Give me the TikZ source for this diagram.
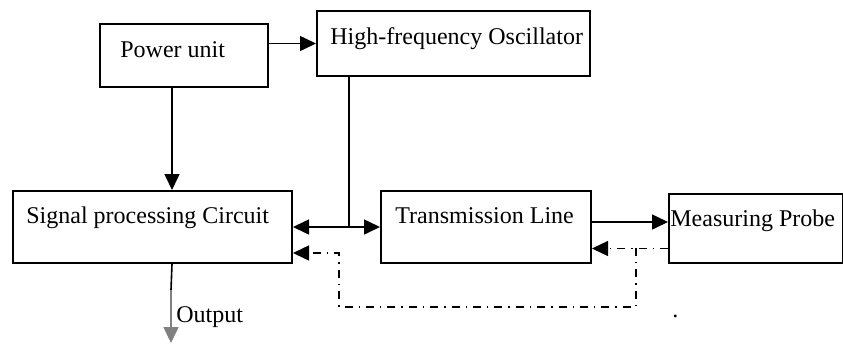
\documentclass[tikz,border=0pt]{standalone}
\usepackage{fontspec}
\setmainfont{Liberation Serif}
\usetikzlibrary{arrows.meta}
\begin{document}
\begin{tikzpicture}[x=0.5pt,y=-0.5pt,
  blk/.style={draw,line width=1pt,inner sep=0pt,anchor=north west},
  lbl/.style={anchor=base west,inner sep=0pt,font=\fontsize{12}{14}\selectfont},
  tip/.style={-{Triangle[length=8pt,width=7.5pt]}},
  conn/.style={line width=0.8pt,tip},
  dashdot/.style={line width=0.7pt,dash pattern=on 4pt off 3pt on 0.7pt off 3pt}]
\useasboundingbox (0,0) rectangle (843,344);

\node[blk,minimum width=84pt,minimum height=31.5pt] (power) at (99,23) {};
\node[blk,minimum width=136.5pt,minimum height=32.5pt] (hfo) at (316,10) {};
\node[blk,minimum width=139.5pt,minimum height=36pt] (sig) at (12,190) {};
\node[blk,minimum width=105pt,minimum height=36pt] (trans) at (380,190) {};
\node[blk,minimum width=87pt,minimum height=34.5pt] (probe) at (668,193) {};

\node[lbl] (powerlbl) at (120,57) {Power unit};
\node[lbl] (hfolbl) at (330,44) {High-frequency Oscillator};
\node[lbl] (siglbl) at (26,223) {Signal processing Circuit};
\node[lbl] (translbl) at (395,223) {Transmission Line};
\node[lbl] (probelbl) at (670,226) {Measuring Probe};
\node[lbl] (outlbl) at (176,322) {Output};
\node[lbl] (dot) at (672,317) {.};

\coordinate (tap) at (349,226);
\coordinate (fb0) at (636,248);
\coordinate (fb1) at (339,307);
\coordinate (outmid) at (171,290);
\coordinate (outend) at (171,343);

\draw[conn] (power.east |- hfo.west) -- (hfo.west);
\draw[conn] ([xshift=-6pt]power.south) -- ([xshift=-6pt]power.south |- sig.north);
\draw[line width=0.8pt] ([xshift=16.5pt]hfo.south west) -- (tap);
\draw[conn,{Triangle[length=8pt,width=7.5pt]}-{Triangle[length=8pt,width=7.5pt]}] (sig.east) -- (trans.west);
\draw[conn] ([yshift=2.5pt]trans.east) -- ([yshift=2.5pt]trans.east -| probe.west);

% feedback
\draw[dashdot,tip] ([yshift=-10pt]probe.west) -- ([yshift=-10pt]probe.west -| trans.east);
\draw[dashdot,tip] (fb0) |- (fb1) |- ([yshift=-13pt]sig.east);

% output
\draw[line width=0.8pt] ([xshift=-6pt]power.south |- sig.south) -- (outmid);
\draw[conn,gray] (outmid) -- (outend);
\end{tikzpicture}
\end{document}
